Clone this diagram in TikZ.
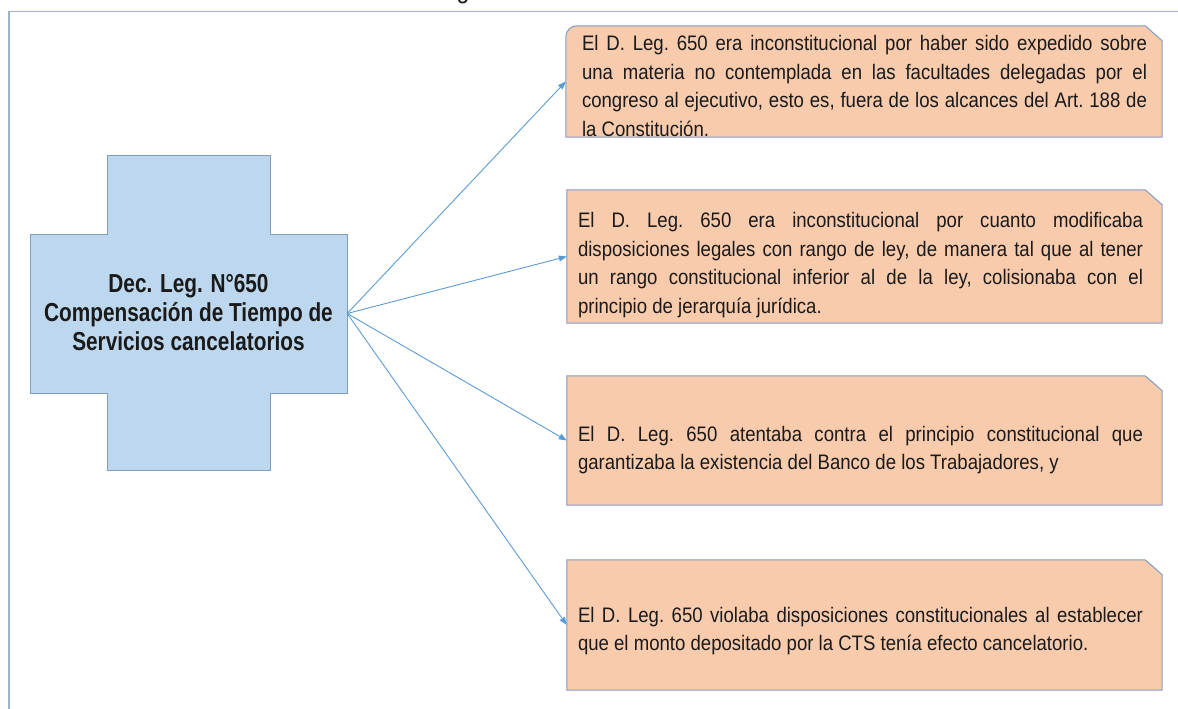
\documentclass[tikz,border=0pt]{standalone}
\usepackage{fontspec}
\setmainfont[FakeStretch=0.885]{Liberation Sans}
\newfontfamily\titlefont[FakeStretch=0.8]{Liberation Sans}
\usetikzlibrary{calc,arrows.meta}
\definecolor{peach}{HTML}{F8CBAD}
\definecolor{crossfill}{HTML}{BDD7EE}
\definecolor{edgec}{HTML}{7F9DC2}
\definecolor{arrowc}{HTML}{5B9BD5}
\definecolor{framec}{HTML}{9AB3D0}
\definecolor{textc}{HTML}{1A1A1A}
\newcommand{\bodysetup}{\fontsize{21}{28.5}\selectfont\fontdimen4\font=0pt\frenchspacing\hyphenpenalty=10000\exhyphenpenalty=10000\tolerance=10000\hbadness=10000\relax}
\begin{document}
\begin{tikzpicture}[x=1pt,y=-1pt,
  boxnode/.style={draw=none, minimum width=595pt, inner sep=0pt},
  bodytext/.style={text width=565pt, align=justify, inner sep=0pt, text=textc,
    font=\bodysetup},
  shapeline/.style={draw=edgec, line width=1pt},
  conn/.style={draw=arrowc, line width=0.9pt, -{Triangle[length=8pt,width=6pt]}}
]
\useasboundingbox (0,0) rectangle (1178,709);

% partially visible title fragment
\begin{scope}
  \clip (0,0) rectangle (1178,709);
  \node[anchor=base, inner sep=0pt, font=\fontsize{26}{30}\selectfont, text=textc] (frag) at (463,-1) {g};
\end{scope}

% outer frame
\draw[framec, line width=1.5pt] (9,715) -- (9,11.5) -- (1185,11.5);

% cross
\filldraw[fill=crossfill, shapeline]
  (107,155) -- (270,155) -- (270,234) -- (347,234) -- (347,393) -- (270,393)
  -- (270,470) -- (107,470) -- (107,393) -- (30,393) -- (30,234) -- (107,234) -- cycle;
\node[draw=none, minimum width=317pt, minimum height=159pt, inner sep=0pt] (c) at (188.5,313.5) {};
\node[align=center, inner sep=0pt, text=textc,
      font=\titlefont\bfseries\fontsize{26}{29}\selectfont] (ct) at (188.5,313) {Dec. Leg. N°650\\Compensación de Tiempo de\\Servicios cancelatorios};

% boxes
\node[boxnode, minimum width=596pt, minimum height=111pt] (b1) at (864,81.5) {};
\node[boxnode, minimum height=133pt] (b2) at (864.5,256.5) {};
\node[boxnode, minimum height=129pt] (b3) at (864.5,440.5) {};
\node[boxnode, minimum height=130pt] (b4) at (864.5,625) {};

\filldraw[fill=peach, shapeline] (b1.south west) -- ($(b1.north west)+(0,11)$)
  .. controls ($(b1.north west)+(0,5)$) and ($(b1.north west)+(5,0)$) .. ($(b1.north west)+(11,0)$)
  -- ($(b1.north east)+(-17,0)$) -- ($(b1.north east)+(0,15)$) -- (b1.south east) -- cycle;
\foreach \b in {b2,b3,b4}{
  \filldraw[fill=peach, shapeline] (\b.south west) -- (\b.north west)
    -- ($(\b.north east)+(-17,0)$) -- ($(\b.north east)+(0,15)$) -- (\b.south east) -- cycle;
}

\node[bodytext] (t1) at (864.5,86) {El D. Leg. 650 era inconstitucional por haber sido expedido sobre\linebreak una materia no contemplada en las facultades delegadas por el\linebreak congreso al ejecutivo, esto es, fuera de los alcances del Art. 188 de\linebreak la Constitución.};
\node[bodytext] (t2) at (860.5,265) {El D. Leg. 650 era inconstitucional por cuanto modificaba\linebreak disposiciones legales con rango de ley, de manera tal que al tener\linebreak un rango constitucional inferior al de la ley, colisionaba con el\linebreak principio de jerarquía jurídica.};
\node[bodytext] (t3) at (860.5,450) {El D. Leg. 650 atentaba contra el principio constitucional que\linebreak garantizaba la existencia del Banco de los Trabajadores, y};
\node[bodytext] (t4) at (860.5,631) {El D. Leg. 650 violaba disposiciones constitucionales al establecer\linebreak que el monto depositado por la CTS tenía efecto cancelatorio.};

% connectors
\foreach \b in {b1,b2,b3,b4}{
  \draw[conn] (c.east) -- (\b.west);
}
\end{tikzpicture}
\end{document}
